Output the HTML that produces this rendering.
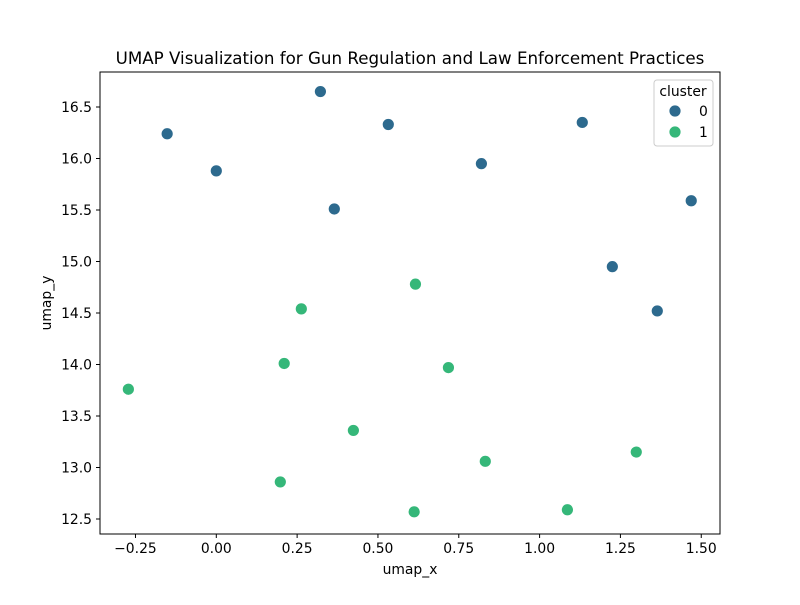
<!DOCTYPE html>
<html><head><meta charset="utf-8"><style>
body{margin:0;background:#fff;}
svg text{font-family:"DejaVu Sans","Liberation Sans",sans-serif;fill:#000;}
</style></head><body>
<svg id="chart" width="800" height="600" xmlns="http://www.w3.org/2000/svg">
<rect width="800" height="600" fill="#fff"/>
<text x="410" y="64" font-size="16.7" text-anchor="middle">UMAP Visualization for Gun Regulation and Law Enforcement Practices</text>
<g id="xticks"></g>
<g id="yticks"></g>
<g id="points"></g>
<rect x="100" y="72" width="620" height="462" fill="none" stroke="#000" stroke-width="1"/>
<text x="410" y="574" font-size="13.9" text-anchor="middle">umap_x</text>
<text x="51" y="303" font-size="13.9" text-anchor="middle" transform="rotate(-90 51 303)">umap_y</text>
<g>
<rect x="654" y="80" width="59" height="66" rx="3" fill="#fff" fill-opacity="0.8" stroke="#ccc"/>
<text x="683" y="96" font-size="13.9" text-anchor="middle">cluster</text>
<circle cx="675" cy="111" r="6" fill="#2d6a8e" stroke="#fff" stroke-width="0.8"/>
<text x="699" y="116" font-size="13.9">0</text>
<circle cx="675" cy="132" r="6" fill="#35b779" stroke="#fff" stroke-width="0.8"/>
<text x="699" y="137" font-size="13.9">1</text>
</g>
</svg>
<script>
const xValues=[0.322,-0.152,0.0,0.365,0.532,0.82,1.132,1.469,1.225,1.364,0.616,0.263,0.21,-0.272,0.718,0.424,0.832,1.299,0.198,0.612,1.086];
const yValues=[16.65,16.24,15.88,15.51,16.33,15.95,16.35,15.59,14.95,14.52,14.78,14.54,14.01,13.76,13.97,13.36,13.06,13.15,12.86,12.57,12.59];
const clusters=[0,0,0,0,0,0,0,0,0,0,1,1,1,1,1,1,1,1,1,1,1];
const xTickValues=[-0.25,0,0.25,0.5,0.75,1,1.25,1.5];
const xTickLabels=["−0.25","0.00","0.25","0.50","0.75","1.00","1.25","1.50"];
const yTickValues=[12.5,13,13.5,14,14.5,15,15.5,16,16.5];
const yTickLabels=["12.5","13.0","13.5","14.0","14.5","15.0","15.5","16.0","16.5"];
const colors=["#2d6a8e","#35b779"];
const NS="http://www.w3.org/2000/svg";
function sx(v){return 216.3+v*323.3;}
function sy(v){return 519-(v-12.5)*103;}
function mk(t,a,p){const e=document.createElementNS(NS,t);for(const k in a)e.setAttribute(k,a[k]);p.appendChild(e);return e;}
const gx=document.getElementById('xticks');
xTickValues.forEach((v,i)=>{const x=sx(v);
 const l=mk('line',{x1:x,x2:x,y1:534,y2:538,stroke:'#000'},gx);
 
 
 const t=mk('text',{x:x,y:553,'font-size':13.9,'text-anchor':'middle'},gx);t.textContent=xTickLabels[i];
 
 });
const gy=document.getElementById('yticks');
yTickValues.forEach((v,i)=>{const y=sy(v);
 const l=mk('line',{x1:96,x2:100,y1:y,y2:y,stroke:'#000'},gy);
 
 
 const t=mk('text',{x:92,y:y+5,'font-size':13.9,'text-anchor':'end'},gy);t.textContent=yTickLabels[i];
 
 });
const gp=document.getElementById('points');
xValues.forEach((v,i)=>{
 const c=mk('circle',{cx:sx(v),cy:sy(yValues[i]),r:6,fill:colors[clusters[i]],stroke:'#fff','stroke-width':0.8},gp);
 
 });
</script>
</body></html>
